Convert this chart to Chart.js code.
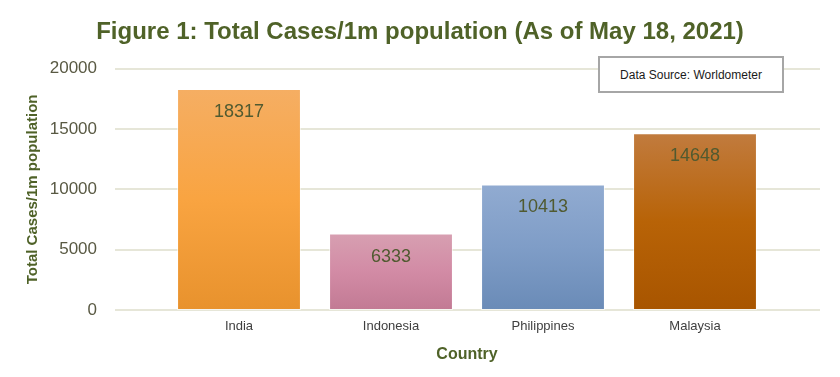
<!DOCTYPE html>
<html lang="en">
<head>
    <meta charset="UTF-8">
    <title>Total Cases/1m population</title>
    <script src="https://cdn.jsdelivr.net/npm/chart.js"></script>
    <style>
        body { margin: 0; background: white; }
        .contenedor { position: relative; width: 840px; height: 377px; }
        .fuente {
            position: absolute; left: 598px; top: 56px; width: 182px; height: 33px;
            border: 2px solid #a6a6a6; background: white;
            font: 12px "Liberation Sans", Arial, sans-serif; color: #1a1a1a;
            display: flex; align-items: center; justify-content: center;
        }
    </style>
</head>
<body>
    <div class="contenedor">
        <canvas id="grafico" width="840" height="377"></canvas>
        <div class="fuente">Data Source: Worldometer</div>
    </div>

    <script>
        let paises = ["India", "Indonesia", "Philippines", "Malaysia"];
        let casosPorMillon = [18317, 6333, 10413, 14648];
        let ticksY = [0, 5000, 10000, 15000, 20000];

        // top, middle, bottom colour of each bar
        let degradados = [
            ["#f5ae63", "#f9a441", "#e8922d"],
            ["#d79fb1", "#d28ba5", "#c27a94"],
            ["#91abd1", "#7f9dc7", "#6a8bb7"],
            ["#c17b3e", "#b86307", "#a85500"]
        ];

        let olivo = "#4f6228";

        let rejillaLarga = {
            id: "rejillaLarga",
            beforeDatasetsDraw(chart) {
                let c = chart.ctx;
                let y = chart.scales.y;
                c.save();
                c.strokeStyle = "#e6e6d8";
                c.lineWidth = 2;
                ticksY.forEach(v => {
                    let py = Math.round(y.getPixelForValue(v));
                    c.beginPath();
                    c.moveTo(115, py);
                    c.lineTo(820, py);
                    c.stroke();
                });
                c.restore();
            }
        };

        let etiquetas = {
            id: "etiquetas",
            afterDatasetsDraw(chart) {
                let c = chart.ctx;
                let meta = chart.getDatasetMeta(0);
                c.save();
                c.font = '18px "Liberation Sans", Arial, sans-serif';
                c.fillStyle = "#505a30";
                c.textAlign = "center";
                c.textBaseline = "middle";
                meta.data.forEach((bar, i) => {
                    c.fillText(String(casosPorMillon[i]), bar.x, bar.y + 23);
                });
                c.restore();
            }
        };

        let ctx = document.getElementById('grafico').getContext('2d');

        let chart = new Chart(ctx, {
            type: 'bar',
            data: {
                labels: paises,
                datasets: [{
                    data: casosPorMillon,
                    backgroundColor: function (context) {
                        let area = context.chart.chartArea;
                        let y = context.chart.scales.y;
                        let cols = degradados[context.dataIndex % degradados.length];
                        if (!area || !y) return cols[1];
                        let top = y.getPixelForValue(casosPorMillon[context.dataIndex]);
                        if (!isFinite(top) || !isFinite(area.bottom)) return cols[1];
                        let g = context.chart.ctx.createLinearGradient(0, top, 0, area.bottom);
                        g.addColorStop(0, cols[0]);
                        g.addColorStop(0.5, cols[1]);
                        g.addColorStop(1, cols[2]);
                        return g;
                    },
                    borderColor: "rgba(255,255,255,0.6)",
                    borderWidth: 1,
                    borderSkipped: false,
                    barPercentage: 0.815,
                    categoryPercentage: 1
                }]
            },
            options: {
                responsive: false,
                animation: false,
                layout: { padding: { left: 15, right: 15, top: 0, bottom: 0 } },
                scales: {
                    y: {
                        min: 0,
                        max: 20000,
                        afterBuildTicks: function (axis) {
                            axis.ticks = ticksY.map(v => ({ value: v }));
                        },
                        afterFit: function (axis) {
                            axis.width = 148;
                            // the big tick padding should not push the plot down
                            axis.paddingTop = 0;
                            axis.paddingBottom = 0;
                        },
                        grid: { display: false, drawTicks: false },
                        border: { display: false },
                        ticks: {
                            padding: 66,
                            color: "#595943",
                            font: { family: "'Liberation Sans', Arial, sans-serif", size: 17 },
                            callback: function (value) { return String(value); }
                        },
                        title: {
                            display: true,
                            text: "Total Cases/1m population",
                            color: olivo,
                            font: { family: "'Liberation Sans', Arial, sans-serif", size: 15, weight: 'bold' },
                            padding: { top: 9, bottom: 7 }
                        }
                    },
                    // empty right axis, only keeps the space right of the plot
                    derecha: {
                        type: 'linear',
                        position: 'right',
                        afterFit: function (axis) {
                            axis.width = 54;
                        },
                        grid: { display: false, drawTicks: false },
                        border: { display: false },
                        ticks: { display: false }
                    },
                    x: {
                        afterFit: function (axis) {
                            axis.height = 67;
                        },
                        grid: { display: false, drawTicks: false },
                        border: { display: false },
                        ticks: {
                            padding: 9,
                            color: "#404040",
                            font: { family: "'Liberation Sans', Arial, sans-serif", size: 13 }
                        },
                        title: {
                            display: true,
                            text: "Country",
                            color: olivo,
                            font: { family: "'Liberation Sans', Arial, sans-serif", size: 16, weight: 'bold' },
                            padding: { top: 0, bottom: 13 }
                        }
                    }
                },
                plugins: {
                    legend: { display: false },
                    tooltip: { enabled: false },
                    title: {
                        display: true,
                        text: "Figure 1: Total Cases/1m population (As of May 18, 2021)",
                        color: olivo,
                        font: { family: "'Liberation Sans', Arial, sans-serif", size: 24, weight: 'bold' },
                        padding: { top: 18, bottom: 22 }
                    }
                }
            },
            plugins: [rejillaLarga, etiquetas]
        });
    </script>
</body>
</html>
